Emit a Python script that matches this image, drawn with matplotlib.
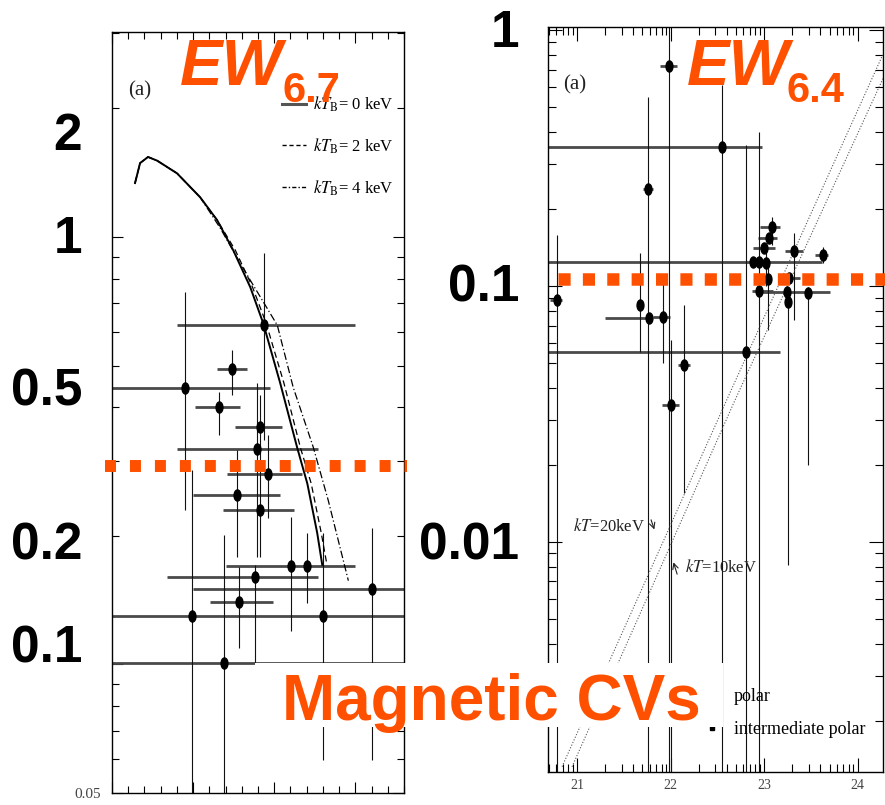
import numpy as np
import matplotlib.pyplot as plt
from matplotlib.path import Path
from matplotlib.patches import Rectangle
from matplotlib.lines import Line2D
from matplotlib.ticker import MultipleLocator, LogLocator, NullFormatter

plt.rcParams['mathtext.fontset'] = 'stix'
plt.rcParams['font.family'] = ['Liberation Serif', 'DejaVu Serif']

ORANGE = '#FF5000'
W, H = 885, 805

# ---- left panel: EW of the 6.7 keV line ----
ew67_x = [9.38, 7.41, 4.51, 6.60, 9.14, 8.95, 9.63, 7.72, 9.14, 11.05, 12.04, 8.83, 16.05, 7.84, 4.94, 13.02, 6.91]
ew67_y = [0.622, 0.491, 0.443, 0.400, 0.359, 0.319, 0.279, 0.249, 0.230, 0.170, 0.170, 0.160, 0.150, 0.140, 0.130, 0.130, 0.1005]
ew67_xlo = [4.01, 6.48, -1, 5.12, 7.59, 4.01, 7.10, 5.00, 6.85, 7.04, np.nan, 3.40, 5.00, 6.05, -1, np.nan, -1]
ew67_xhi = [15.0, 8.33, 9.75, 7.90, 10.49, 12.72, 11.73, 10.37, 11.23, 15.0, np.nan, 12.72, 19, 9.94, 19, np.nan, 19]
ew67_ylo = [0.335, 0.426, 0.230, 0.344, 0.300, 0.178, 0.220, 0.178, 0.178, 0.120, 0.139, 0.1005, 0.0596, 0.109, 0.01, 0.0596, 0.01]
ew67_yhi = [0.917, 0.544, 0.743, 0.433, 0.427, 0.455, 0.344, 0.317, 0.285, 0.221, 0.203, 0.1706, 0.209, 0.169, 0.285, 0.203, 0.2005]

# model curves kT_B = 0, 2, 4 keV
kt0_x = [1.42, 1.73, 2.22, 2.78, 4.01, 5.43, 6.48, 7.47, 8.52, 9.32, 10.37, 11.42, 12.04, 12.65, 12.96]
kt0_y = [1.338, 1.49, 1.54, 1.51, 1.41, 1.24, 1.096, 0.932, 0.764, 0.629, 0.455, 0.321, 0.265, 0.203, 0.171]
kt2_x = [1.42, 1.73, 2.22, 2.78, 4.01, 5.43, 6.48, 7.60, 8.66, 9.50, 10.60, 11.62, 12.28, 12.90, 13.25]
kt2_y = [1.338, 1.49, 1.54, 1.51, 1.41, 1.24, 1.096, 0.932, 0.764, 0.629, 0.455, 0.321, 0.265, 0.203, 0.171]
kt4_x = [1.42, 1.73, 2.22, 2.78, 4.01, 5.43, 6.67, 7.90, 8.52, 10.19, 11.17, 12.41, 13.33, 14.57]
kt4_y = [1.338, 1.49, 1.54, 1.51, 1.41, 1.24, 1.05, 0.869, 0.793, 0.622, 0.445, 0.322, 0.242, 0.157]
ew67_level = 0.292

# ---- right panel: EW of the 6.4 keV line vs log NH ----
ew64_lognh = [21.982, 22.547, 21.758, 23.081, 23.049, 22.996, 23.316, 23.625, 22.878, 22.942, 23.017, 23.038,
              23.262, 22.942, 23.241, 23.252, 23.465, 20.787, 21.672, 21.768, 21.918, 22.804, 22.142, 22.003]
ew64_y = [0.723, 0.349, 0.239, 0.170, 0.154, 0.141, 0.137, 0.132, 0.124, 0.124, 0.123, 0.106,
          0.107, 0.0956, 0.0948, 0.0866, 0.0939, 0.0881, 0.0843, 0.075, 0.0756, 0.0552, 0.0491, 0.0343]
ew64_xlo = [21.886, 20.5, 21.70, 22.953, 22.932, 22.878, 23.22, 23.54, 20.5, np.nan, np.nan, np.nan,
            23.145, 22.87, 22.97, np.nan, np.nan, 20.71, np.nan, 21.299, 21.81, 20.5, 22.08, 21.91]
ew64_xhi = [22.067, 22.974, 21.81, 23.167, 23.134, 23.113, 23.41, 23.68, 23.615, np.nan, np.nan, np.nan,
            23.38, 23.09, 23.70, np.nan, np.nan, 20.84, np.nan, 21.779, 21.99, 23.17, 22.21, 22.09]
ew64_ylo = [1e-4, 1e-4, 1e-4, 0.145, np.nan, np.nan, 0.0738, 0.123, np.nan, 1e-4, 0.100, 0.067,
            np.nan, np.nan, np.nan, 0.00813, 0.020, 1e-4, 0.0552, np.nan, 0.050, 1e-4, 0.0155, 1e-4]
ew64_yhi = [2.0, 0.610, 0.547, 0.186, np.nan, np.nan, 0.161, 0.142, np.nan, 0.40, 0.145, 0.126,
            np.nan, np.nan, np.nan, 0.0964, 0.0991, 0.158, 0.135, np.nan, 0.108, 0.356, 0.0843, 0.0615]

# kT = 20 keV and 10 keV model lines (log NH, log EW)
kt20_lognh = [20.840, 22.601, 24.266]
kt20_logew = [-2.879, -1.445, -0.098]
kt10_lognh = [20.947, 22.690, 24.32]
kt10_logew = [-2.879, -1.445, -0.15]
ew64_level = 0.106

left_labels = ['2', '1', '0.5', '0.2', '0.1']
left_label_base = [150, 253, 405, 560, 662]
right_labels = ['1', '0.1', '0.01']
right_label_base = [47, 302, 560]
nh_ticks = [21, 22, 23, 24]


def fx(px):
    return px / W


def fy(py):
    return 1 - py / H


def axes_px(l, t, r, b):
    return fig.add_axes([fx(l), fy(b), (r - l) / W, (b - t) / H])


def draw_points(ax, x, y, xlo, xhi, ylo, yhi):
    x, y = np.asarray(x), np.asarray(y)
    xlo, xhi, ylo, yhi = map(np.asarray, (xlo, xhi, ylo, yhi))
    m = ~np.isnan(xlo)
    ax.hlines(y[m], xlo[m], xhi[m], color='#4a4a4a', lw=2.0, zorder=2)
    m = ~np.isnan(ylo)
    ax.vlines(x[m], ylo[m], yhi[m], color='#111111', lw=0.8, zorder=2)
    ax.plot(x, y, ls='none', marker=ell, ms=8, color='k', zorder=4)


circ = Path.unit_circle()
ell = Path(circ.vertices * [0.62, 1.0], circ.codes)

fig = plt.figure(figsize=(W / 100, H / 100), dpi=100)

# ---------------- left panel ----------------
axL = axes_px(112, 32, 404, 793)
axL.set_yscale('log')
axL.set_xlim(0, 18)
axL.set_ylim(0.05, 3.02)
draw_points(axL, ew67_x, ew67_y, ew67_xlo, ew67_xhi, ew67_ylo, ew67_yhi)
axL.plot(kt0_x, kt0_y, color='k', lw=1.4, zorder=3)
axL.plot(kt2_x, kt2_y, color='k', lw=0.9, ls=(0, (5, 3)), zorder=3)
axL.plot(kt4_x, kt4_y, color='k', lw=0.9, ls=(0, (6, 2, 1, 2)), zorder=3)
handles = [Line2D([], [], color='#555', lw=2.2),
           Line2D([], [], color='k', lw=1.0, ls=(0, (3, 2))),
           Line2D([], [], color='k', lw=1.0, ls=(0, (3, 1.5, 1, 1.5)))]
axL.legend(handles, [r'$kT_{\rm B}$= 0 keV', r'$kT_{\rm B}$= 2 keV', r'$kT_{\rm B}$= 4 keV'],
           loc='upper right', bbox_to_anchor=(0.965, 0.918), frameon=False, fontsize=12,
           handlelength=1.4, handletextpad=0.45, labelspacing=1.35, borderpad=0, borderaxespad=0)
axL.axhline(ew67_level, xmin=-0.025, xmax=1.01, color=ORANGE, lw=8.6,
            ls=(0, (0.92, 1.17)), solid_capstyle='butt', dash_capstyle='butt', clip_on=False, zorder=6)
axL.text(0.095, 0.922, '(a)', transform=axL.transAxes, fontsize=15, ha='center', va='center', color='#222')

axL.xaxis.set_major_locator(MultipleLocator(5))
axL.xaxis.set_minor_locator(MultipleLocator(1))
axL.set_xticklabels([])
axL.set_yticks([0.05, 0.1, 1])
axL.set_yticklabels(['0.05', '', ''])
axL.yaxis.set_minor_locator(LogLocator(subs=np.arange(2, 10)))
axL.yaxis.set_minor_formatter(NullFormatter())
axL.tick_params(which='both', direction='in', top=True, right=True, color='k', width=0.8)
axL.tick_params(which='major', length=8)
axL.tick_params(which='minor', length=5)
axL.tick_params(axis='y', which='major', pad=8, labelsize=11, labelcolor='#444')

# ---------------- right panel ----------------
axR = axes_px(548, 27, 883, 772)
axR.set_xscale('log')
axR.set_yscale('log')
axR.set_xlim(10 ** 20.69, 10 ** 24.27)
axR.set_ylim(0.00126, 1.027)
nh = 10 ** np.asarray(ew64_lognh)
draw_points(axR, nh, ew64_y, 10 ** np.asarray(ew64_xlo), 10 ** np.asarray(ew64_xhi), ew64_ylo, ew64_yhi)
axR.plot(10 ** np.asarray(kt20_lognh), 10 ** np.asarray(kt20_logew), color='#555', lw=0.8, ls=(0, (1, 1.6)), zorder=3)
axR.plot(10 ** np.asarray(kt10_lognh), 10 ** np.asarray(kt10_logew), color='#555', lw=0.8, ls=(0, (1, 1.6)), zorder=3)
axR.text(0.074, 0.330, r'$kT$=20keV', transform=axR.transAxes, fontsize=12, ha='left', va='center', color='#222')
axR.text(0.410, 0.275, r'$kT$=10keV', transform=axR.transAxes, fontsize=12, ha='left', va='center', color='#222')
axR.annotate('', xy=(0.32, 0.322), xytext=(0.305, 0.342), xycoords='axes fraction',
             arrowprops=dict(arrowstyle='->', lw=0.8, color='#222'))
axR.annotate('', xy=(0.372, 0.285), xytext=(0.388, 0.262), xycoords='axes fraction',
             arrowprops=dict(arrowstyle='->', lw=0.8, color='#222'))
rh = [Line2D([], [], ls='none', marker='o', ms=5, color='k'),
      Line2D([], [], ls='none', marker='s', ms=3.5, color='k')]
axR.legend(rh, ['polar', 'intermediate polar'], loc='lower left', bbox_to_anchor=(0.463, 0.045),
           frameon=False, fontsize=13, handlelength=1.0, handletextpad=0.7, labelspacing=0.9,
           borderpad=0, borderaxespad=0)
axR.axhline(ew64_level, xmin=0.03, xmax=1.01, color=ORANGE, lw=9,
            ls=(0, (0.97, 0.98)), solid_capstyle='butt', dash_capstyle='butt', clip_on=False, zorder=6)
axR.text(0.08, 0.922, '(a)', transform=axR.transAxes, fontsize=15, ha='center', va='center', color='#222')

axR.set_xticks([10.0 ** k for k in nh_ticks])
axR.set_xticklabels([str(k) for k in nh_ticks])
axR.xaxis.set_minor_locator(LogLocator(subs=np.arange(2, 10)))
axR.xaxis.set_minor_formatter(NullFormatter())
axR.yaxis.set_minor_locator(LogLocator(subs=np.arange(2, 10)))
axR.yaxis.set_major_formatter(NullFormatter())
axR.yaxis.set_minor_formatter(NullFormatter())
axR.tick_params(which='both', direction='in', top=True, right=True, color='k', width=0.8)
axR.tick_params(which='major', length=10)
axR.tick_params(which='minor', length=6)
axR.tick_params(axis='x', which='major', pad=5, labelsize=10, labelcolor='#444')

for ax in (axL, axR):
    for s in ax.spines.values():
        s.set_linewidth(1.0)

# ---------------- slide overlays ----------------
big = dict(family='Liberation Sans', fontweight='bold', fontsize=37, color='k', ha='right', va='baseline')
for lab, yb in zip(left_labels, left_label_base):
    fig.text(fx(82), fy(yb), lab, **big)
for lab, yb in zip(right_labels, right_label_base):
    fig.text(fx(519), fy(yb), lab, **big)

ew = dict(family='Liberation Sans', fontweight='bold', color=ORANGE, ha='left', va='baseline', zorder=12)
fig.text(fx(180), fy(85), 'EW', fontsize=46, fontstyle='italic', **ew)
fig.text(fx(282), fy(102), '6.7', fontsize=30, **ew)
fig.text(fx(687), fy(85), 'EW', fontsize=46, fontstyle='italic', **ew)
fig.text(fx(787), fy(102), '6.4', fontsize=30, **ew)

fig.add_artist(Rectangle((fx(255), fy(727)), (723 - 255) / W, (727 - 663) / H, transform=fig.transFigure,
                         facecolor='white', edgecolor='none', zorder=10))
fig.text(fx(282), fy(720), 'Magnetic CVs', fontsize=46, **ew)

fig.savefig('out.png', dpi=100)
